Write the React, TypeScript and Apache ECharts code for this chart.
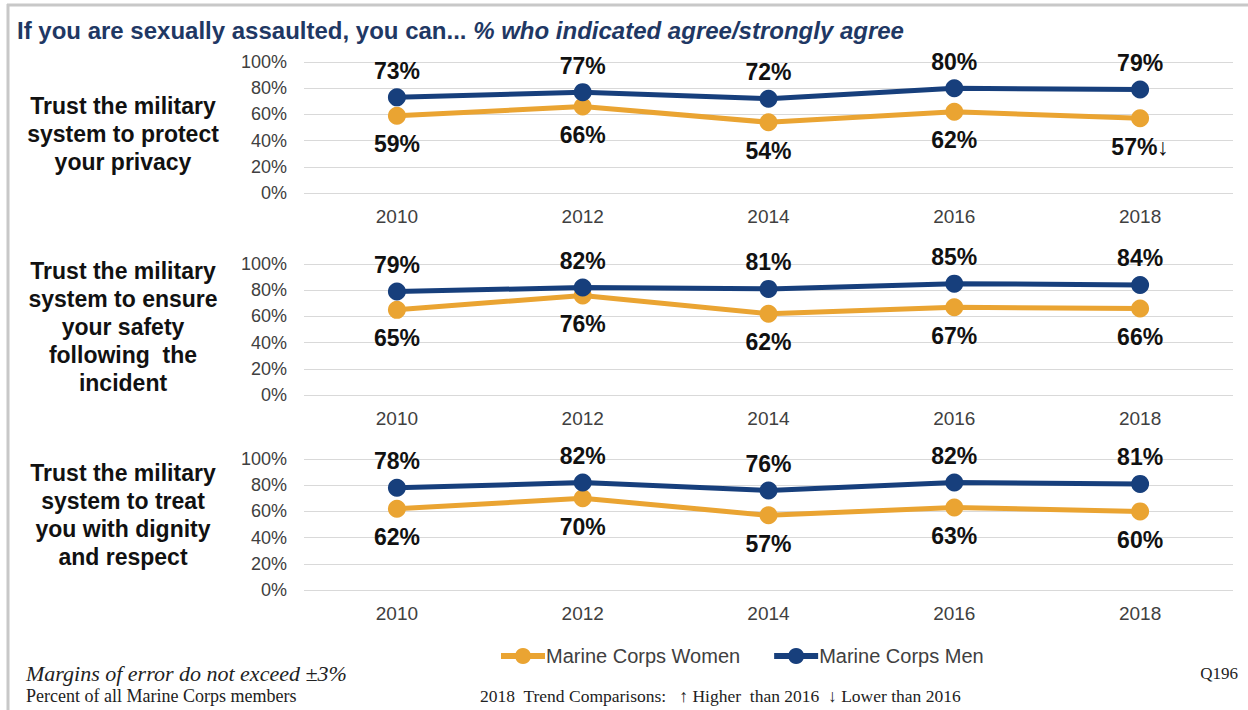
import React, { useEffect, useRef } from "react";
import * as echarts from "echarts";

const years = ["2010", "2012", "2014", "2016", "2018"];
const seriesNames = ["Marine Corps Women", "Marine Corps Men"];
const privacyWomen = [59, 66, 54, 62, 57];
const privacyMen = [73, 77, 72, 80, 79];
const safetyWomen = [65, 76, 62, 67, 66];
const safetyMen = [79, 82, 81, 85, 84];
const dignityWomen = [62, 70, 57, 63, 60];
const dignityMen = [78, 82, 76, 82, 81];
const panelLabels = [
  "Trust the military\nsystem to protect\nyour privacy",
  "Trust the military\nsystem to ensure\nyour safety\nfollowing  the\nincident",
  "Trust the military\nsystem to treat\nyou with dignity\nand respect",
];
// trend markers for 2018 (index 4) per panel: [women, men]
const trendMarks = [["↓", ""], ["", ""], ["", ""]];

const WOMEN = "#EAA432";
const MEN = "#173F7C";

export default function App() {
  const ref = useRef<HTMLDivElement>(null);
  useEffect(() => {
    if (!ref.current) return;
    const chart = echarts.init(ref.current, null, { renderer: "svg" });
    const tops = [62, 264, 459];
    const centers = [134, 327, 515];
    const panels = [
      [privacyWomen, privacyMen],
      [safetyWomen, safetyMen],
      [dignityWomen, dignityMen],
    ];
    const grids = tops.map((t) => ({ left: 304, right: 15, top: t, height: 131 }));
    const xAxes = tops.map((_, i) => ({
      type: "category",
      gridIndex: i,
      data: years,
      boundaryGap: true,
      axisLine: { show: false },
      axisTick: { show: false },
      axisLabel: { color: "#404040", fontSize: 19, fontFamily: "Arial", margin: 14 },
    }));
    const yAxes = tops.map((_, i) => ({
      type: "value",
      gridIndex: i,
      min: 0,
      max: 100,
      interval: 20,
      axisLine: { show: false },
      axisTick: { show: false },
      splitLine: { lineStyle: { color: "#D9D9D9", width: 1 } },
      axisLabel: { color: "#404040", fontSize: 18, fontFamily: "Arial", margin: 17, formatter: "{value}%" },
    }));
    const series: any[] = [];
    panels.forEach((p, i) => {
      [0, 1].forEach((s) => {
        const vals = p[s];
        series.push({
          type: "line",
          name: seriesNames[s],
          xAxisIndex: i,
          yAxisIndex: i,
          data: vals,
          symbol: "circle",
          symbolSize: 18,
          color: s === 0 ? WOMEN : MEN,
          lineStyle: { width: 5, color: s === 0 ? WOMEN : MEN },
          label: {
            show: true,
            position: s === 0 ? "bottom" : "top",
            distance: s === 0 ? 8 : 6,
            color: "#111",
            fontSize: 23,
            fontWeight: "bold",
            fontFamily: "Arial",
            formatter: (prm: any) => prm.value + "%" + (prm.dataIndex === 4 ? trendMarks[i][s] : ""),
          },
          z: s === 0 ? 2 : 3,
        });
      });
    });
    const option: any = {
      animation: false,
      backgroundColor: "#fff",
      title: {
        left: 12,
        top: 13,
        text: "{a|If you are sexually assaulted, you can... }{b|% who indicated agree/strongly agree}",
        textStyle: {
          rich: {
            a: { fontSize: 24, fontWeight: "bold", fontFamily: "Arial", color: "#1F3864" },
            b: { fontSize: 24, fontWeight: "bold", fontStyle: "italic", fontFamily: "Arial", color: "#1F3864" },
          },
        },
      },
      legend: {
        data: seriesNames,
        left: 493,
        top: 641,
        itemWidth: 44,
        itemHeight: 20,
        itemGap: 31,
        lineStyle: { width: 6 },
        textStyle: { fontSize: 20, color: "#404040", fontFamily: "Arial", padding: [0, 0, 0, -4] },
      },
      grid: grids,
      xAxis: xAxes,
      yAxis: yAxes,
      series,
      graphic: [
        { type: "line", shape: { x1: 7, y1: 5, x2: 1248, y2: 5 }, style: { stroke: "#C8C8C8", lineWidth: 3 } },
        { type: "line", shape: { x1: 8, y1: 4, x2: 8, y2: 710 }, style: { stroke: "#C8C8C8", lineWidth: 3 } },
        ...panelLabels.map((t, i) => ({
          type: "text",
          x: 123,
          y: centers[i],
          style: {
            text: t,
            textAlign: "center",
            textVerticalAlign: "middle",
            fontSize: 23,
            fontWeight: "bold",
            fontFamily: "Arial",
            lineHeight: 28,
            fill: "#111",
          },
        })),
        {
          type: "text",
          x: 26,
          y: 673,
          style: {
            text: "Margins of error do not exceed ±3%",
            fontSize: 22,
            fontStyle: "italic",
            fontFamily: "Liberation Serif",
            fill: "#222",
            textVerticalAlign: "middle",
          },
        },
        {
          type: "text",
          x: 26,
          y: 696,
          style: {
            text: "Percent of all Marine Corps members",
            fontSize: 18,
            fontFamily: "Liberation Serif",
            fill: "#222",
            textVerticalAlign: "middle",
          },
        },
        {
          type: "text",
          x: 480,
          y: 696,
          style: {
            text: "2018  Trend Comparisons:   ↑ Higher  than 2016  ↓ Lower than 2016",
            fontSize: 17.5,
            fontFamily: "Liberation Serif",
            fill: "#222",
            textVerticalAlign: "middle",
          },
        },
        {
          type: "text",
          x: 1238,
          y: 673,
          style: {
            text: "Q196",
            fontSize: 17,
            fontFamily: "Liberation Serif",
            fill: "#222",
            textAlign: "right",
            textVerticalAlign: "middle",
          },
        },
      ],
    };
    chart.setOption(option);
    return () => chart.dispose();
  }, []);
  return (
    <div
      ref={ref}
      style={{ position: "fixed", left: 0, top: 0, width: 1248, height: 710 }}
    />
  );
}
